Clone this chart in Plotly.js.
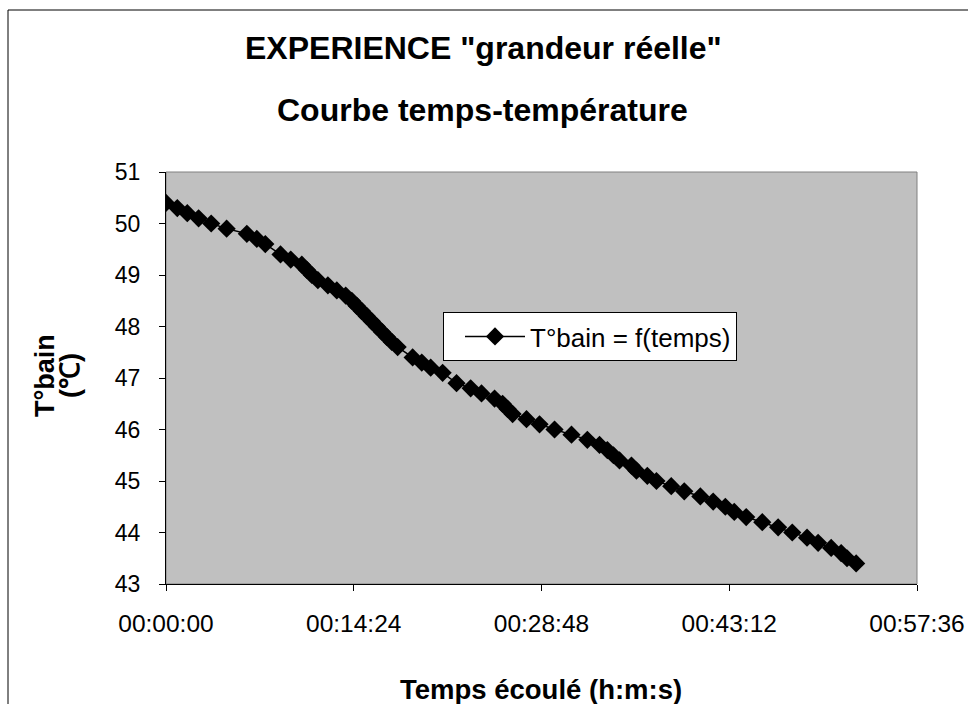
<!DOCTYPE html>
<html>
<head>
<meta charset="utf-8">
<script src="https://cdn.plot.ly/plotly-3.0.1.min.js"></script>
<style>html,body{margin:0;padding:0;background:#fff;}#chart{width:968px;height:704px;}</style>
</head>
<body>
<div id="chart"></div>
<script>
// Elapsed time (h:m:s) and bath temperature (°C)
const elapsed = [
  "00:00:00","00:00:52","00:01:38","00:02:30","00:03:28","00:04:39","00:06:12","00:06:58","00:07:37","00:08:47",
  "00:09:34","00:10:25","00:10:48","00:11:11","00:11:39","00:12:25","00:13:06","00:13:47","00:14:15","00:14:38",
  "00:15:01","00:15:24","00:15:47","00:16:10","00:16:33","00:16:56","00:17:19","00:17:46","00:18:55","00:19:37",
  "00:20:18","00:21:13","00:22:17","00:23:22","00:24:12","00:25:12","00:25:49","00:26:12","00:26:35","00:27:39",
  "00:28:39","00:29:48","00:31:06","00:32:19","00:33:15","00:33:51","00:34:19","00:34:47","00:35:42","00:36:05",
  "00:36:55","00:37:37","00:38:45","00:39:45","00:40:59","00:41:58","00:42:54","00:43:35","00:44:30","00:45:44",
  "00:46:57","00:48:02","00:49:10","00:50:01","00:51:01","00:51:47","00:52:14","00:52:56"
];
const tempBain = [
  50.4,50.3,50.2,50.1,50.0,49.9,49.8,49.7,49.6,49.4,
  49.3,49.2,49.1,49.0,48.9,48.8,48.7,48.6,48.5,48.4,
  48.3,48.2,48.1,48.0,47.9,47.8,47.7,47.6,47.4,47.3,
  47.2,47.1,46.9,46.8,46.7,46.6,46.5,46.4,46.3,46.2,
  46.1,46.0,45.9,45.8,45.7,45.6,45.5,45.4,45.3,45.2,
  45.1,45.0,44.9,44.8,44.7,44.6,44.5,44.4,44.3,44.2,
  44.1,44.0,43.9,43.8,43.7,43.6,43.5,43.4
];
const seriesName = "T°bain = f(temps)";
const xTickLabels = ["00:00:00","00:14:24","00:28:48","00:43:12","00:57:36"];
const yTicks = [43,44,45,46,47,48,49,50,51];

const base = "1970-01-01 ";
const xs = elapsed.map(t => base + t);
const xTickVals = xTickLabels.map(t => base + t);

const font = "Liberation Sans, Arial, sans-serif";
// plot area in pixels: left 166, right 917, top 172, bottom 584
const px = x => (x - 166) / 751;
const py = y => (584 - y) / 412;

const trace = {
  x: xs, y: tempBain, type: "scatter", mode: "lines+markers", name: seriesName,
  line: {color: "#000", width: 1.5},
  marker: {symbol: "diamond", size: 14, color: "#000"}
};

const layout = {
  width: 968, height: 704,
  margin: {l: 166, r: 51, t: 172, b: 120},
  paper_bgcolor: "#fff", plot_bgcolor: "#c0c0c0",
  showlegend: true,
  legend: {
    x: px(443), y: py(312), xanchor: "left", yanchor: "top",
    bgcolor: "#fff", bordercolor: "#000", borderwidth: 1,
    font: {family: font, size: 26, color: "#000"},
    itemwidth: 60, indentation: 16
  },
  xaxis: {
    type: "date",
    range: [base + xTickLabels[0], base + xTickLabels[4]],
    tickvals: xTickVals, ticktext: xTickLabels,
    showgrid: false, zeroline: false,
    showline: true, linecolor: "#000", linewidth: 1,
    ticks: "outside", ticklen: 6, tickcolor: "#000",
    ticklabelstandoff: 12,
    tickfont: {family: font, size: 24.5, color: "#000"}
  },
  yaxis: {
    range: [43, 51], tickvals: yTicks,
    showgrid: false, zeroline: false,
    showline: true, linecolor: "#000", linewidth: 1,
    ticks: "outside", ticklen: 6, tickcolor: "#000",
    ticklabelstandoff: 14,
    tickfont: {family: font, size: 23, color: "#000"}
  },
  shapes: [
    {type: "rect", xref: "paper", yref: "paper", x0: 0, x1: 1, y0: 0, y1: 1,
     line: {color: "#808080", width: 1}, layer: "below"},
    {type: "rect", xref: "paper", yref: "paper",
     x0: px(8), x1: px(980), y0: py(720), y1: py(10),
     line: {color: "#000", width: 1}}
  ],
  annotations: [
    {text: "<b>EXPERIENCE \"grandeur réelle\"</b>", xref: "paper", yref: "paper",
     x: px(483), y: py(48), showarrow: false, xanchor: "center", yanchor: "middle",
     font: {family: font, size: 32, color: "#000"}},
    {text: "<b>Courbe temps-température</b>", xref: "paper", yref: "paper",
     x: px(482), y: py(110), showarrow: false, xanchor: "center", yanchor: "middle",
     font: {family: font, size: 32, color: "#000"}},
    {text: "<b>Temps écoulé (h:m:s)</b>", xref: "paper", yref: "paper",
     x: px(541), y: py(689), showarrow: false, xanchor: "center", yanchor: "middle",
     font: {family: font, size: 27.5, color: "#000"}},
    {text: "<b>T°bain</b>", xref: "paper", yref: "paper", textangle: -90,
     x: px(45), y: py(376), showarrow: false, xanchor: "center", yanchor: "middle",
     font: {family: font, size: 27, color: "#000"}},
    {text: "<b>(℃)</b>", xref: "paper", yref: "paper", textangle: -90,
     x: px(70), y: py(376), showarrow: false, xanchor: "center", yanchor: "middle",
     font: {family: font, size: 27, color: "#000"}}
  ]
};

Plotly.newPlot("chart", [trace], layout, {displayModeBar: false, staticPlot: true});
</script>
</body>
</html>
